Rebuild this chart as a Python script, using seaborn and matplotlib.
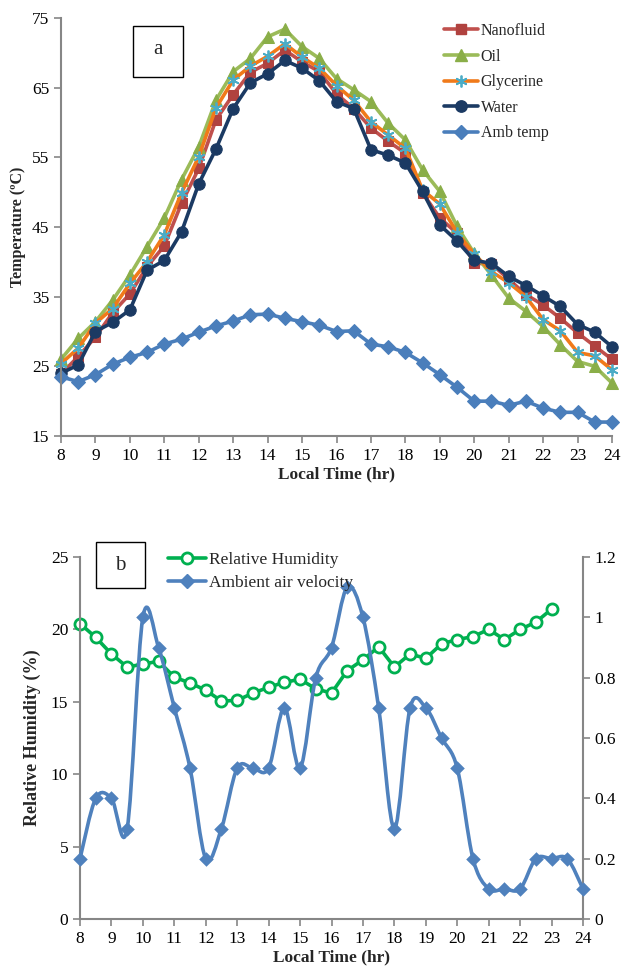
import numpy as np
import pandas as pd
import matplotlib
matplotlib.use("Agg")
import matplotlib.pyplot as plt
import seaborn as sns
from matplotlib.path import Path
from matplotlib.patches import PathPatch, Rectangle
from matplotlib.lines import Line2D

# ---------------- data ----------------
time_a = [8, 8.5, 9, 9.5, 10, 10.5, 11, 11.5, 12, 12.5, 13, 13.5, 14, 14.5, 15, 15.5,
          16, 16.5, 17, 17.5, 18, 18.5, 19, 19.5, 20, 20.5, 21, 21.5, 22, 22.5, 23, 23.5, 24]
nanofluid = [23.9, 26.4, 29.2, 32.7, 35.4, 39.3, 42.3, 48.4, 53.4, 60.4, 64.0, 67.2, 68.5, 70.4,
             68.7, 67.3, 64.1, 62.0, 59.2, 57.3, 55.6, 49.9, 46.3, 44.1, 39.8, 39.7, 37.5, 35.3,
             33.8, 31.9, 29.8, 27.9, 26.0]
oil = [26.0, 29.0, 31.4, 34.5, 38.1, 42.2, 46.3, 51.8, 56.5, 63.2, 67.3, 69.2, 72.3, 73.4,
       70.9, 69.2, 66.3, 64.7, 63.0, 59.9, 57.5, 53.2, 50.1, 45.1, 41.2, 38.1, 34.8, 32.9,
       30.7, 28.1, 25.7, 25.0, 22.6]
glycerine = [25.4, 27.6, 31.2, 33.3, 36.9, 40.0, 43.9, 49.9, 55.1, 62.1, 66.1, 68.1, 69.5, 71.3,
             69.4, 67.8, 65.3, 63.2, 60.1, 58.2, 56.3, 50.3, 48.3, 44.2, 41.1, 38.6, 37.0, 35.0,
             31.7, 30.1, 27.0, 26.5, 24.5]
water = [24.0, 25.2, 30.0, 31.3, 33.1, 38.8, 40.2, 44.3, 51.2, 56.2, 62.0, 65.7, 67.0, 68.9,
         67.8, 66.0, 63.0, 62.0, 56.1, 55.3, 54.2, 50.1, 45.3, 43.0, 40.2, 39.8, 37.9, 36.6,
         35.1, 33.6, 31.0, 29.9, 27.8]
amb_temp = [23.5, 22.8, 23.8, 25.3, 26.3, 27.0, 28.2, 28.9, 29.9, 30.8, 31.5, 32.4, 32.5, 31.9,
            31.4, 30.9, 30.0, 30.1, 28.2, 27.8, 27.0, 25.5, 23.8, 22.0, 20.0, 20.0, 19.4, 20.0,
            19.0, 18.4, 18.4, 17.0, 17.0]

time_rh = [8, 8.5, 9, 9.5, 10, 10.5, 11, 11.5, 12, 12.5, 13, 13.5, 14, 14.5, 15, 15.5,
           16, 16.5, 17, 17.5, 18, 18.5, 19, 19.5, 20, 20.5, 21, 21.5, 22, 22.5, 23]
rel_humidity = [20.4, 19.45, 18.3, 17.4, 17.6, 17.8, 16.7, 16.3, 15.8, 15.05, 15.1, 15.6, 16.0,
                16.35, 16.55, 15.9, 15.6, 17.15, 17.9, 18.8, 17.4, 18.3, 18.0, 19.0, 19.3, 19.5,
                20.0, 19.3, 20.0, 20.5, 21.4]
time_v = time_a
air_velocity = [0.2, 0.4, 0.4, 0.3, 1.0, 0.9, 0.7, 0.5, 0.2, 0.3, 0.5, 0.5, 0.5, 0.7, 0.5, 0.8,
                0.9, 1.1, 1.0, 0.7, 0.3, 0.7, 0.7, 0.6, 0.5, 0.2, 0.1, 0.1, 0.1, 0.2, 0.2, 0.2, 0.1]

x_ticks = list(range(8, 25))
temp_ticks = [15, 25, 35, 45, 55, 65, 75]
rh_ticks = [0, 5, 10, 15, 20, 25]
vel_ticks = [0, 0.2, 0.4, 0.6, 0.8, 1.0, 1.2]
vel_tick_labels = ["0", "0.2", "0.4", "0.6", "0.8", "1", "1.2"]

# ---------------- style ----------------
sns.set_style("ticks")
plt.rcParams["font.family"] = ["Liberation Serif", "DejaVu Serif"]

W, H = 623, 975
fig = plt.figure(figsize=(W / 100, H / 100), dpi=100)

def fx(px):
    return px / W

def fy(py):
    return 1 - py / H

GRAY = "#868686"
TICK_FS = 12.5

def style_axis(ax, right=False):
    for s in ["top", "right"]:
        ax.spines[s].set_visible(False)
    for s in ["left", "bottom"] + (["right"] if right else []):
        ax.spines[s].set_visible(True)
        ax.spines[s].set_color(GRAY)
        ax.spines[s].set_linewidth(1.5)
    ax.tick_params(axis="both", colors=GRAY, labelcolor="black", length=5, width=1.2,
                   labelsize=TICK_FS, direction="out")

# ---------------- panel a ----------------
ax1 = fig.add_axes([fx(61), fy(436), fx(612 - 61), (436 - 18) / H])
df_a = pd.DataFrame({"t": time_a, "Nanofluid": nanofluid, "Oil": oil, "Glycerine": glycerine,
                     "Water": water, "Amb temp": amb_temp})

series_a = [
    ("Nanofluid", dict(color="#C0504D", marker="s", markersize=7.8, markerfacecolor="#B0423F",
                       markeredgecolor="#B0423F", linewidth=2.6)),
    ("Oil", dict(color="#9BBB59", marker="^", markersize=8.5, markerfacecolor="#8AAE48",
                 markeredgecolor="#8AAE48", linewidth=2.6)),
    ("Glycerine", dict(color="#F07A1A", marker=(6, 2, 0), markersize=8.5, markerfacecolor="none",
                       markeredgecolor="#4BACC6", markeredgewidth=1.3, linewidth=2.6)),
    ("Water", dict(color="#1B3A63", marker="o", markersize=8.2, markerfacecolor="#1B3A63",
                   markeredgecolor="#1B3A63", linewidth=2.6)),
    ("Amb temp", dict(color="#4A7EBB", marker="D", markersize=7.2, markerfacecolor="#4A7EBB",
                      markeredgecolor="#4A7EBB", linewidth=2.6)),
]
handles_a = []
for name, kw in series_a:
    sns.lineplot(data=df_a, x="t", y=name, ax=ax1, clip_on=False, **kw)
    handles_a.append(Line2D([], [], **kw))

ax1.set_xlim(8, 24)
ax1.set_ylim(15, 75)
ax1.set_xticks(x_ticks)
ax1.set_yticks(temp_ticks)
style_axis(ax1)
ax1.set_xlabel("Local Time (hr)", fontsize=12.5, fontweight="bold", labelpad=2)
ax1.set_ylabel("Temperature (ºC)", fontsize=11.5, fontweight="bold", labelpad=4)

leg1 = ax1.legend(handles_a, [s[0] for s in series_a], loc="upper left",
                  bbox_to_anchor=(fx(444), fy(23)), bbox_transform=fig.transFigure,
                  frameon=False, fontsize=11.5, borderpad=0, borderaxespad=0,
                  handlelength=2.15, handletextpad=0.15, labelspacing=0.6)

fig.add_artist(Rectangle((fx(133), fy(77)), fx(183) - fx(133), fy(26) - fy(77),
                         transform=fig.transFigure, fill=False, ec="black", lw=1.0))
fig.text(fx(158), fy(50), "a", ha="center", va="center", fontsize=15)

# ---------------- panel b ----------------
ax2 = fig.add_axes([fx(80), fy(919), fx(583 - 80), (919 - 557) / H])
ax3 = ax2.twinx()

df_rh = pd.DataFrame({"t": time_rh, "rh": rel_humidity})
df_v = pd.DataFrame({"t": time_v, "v": air_velocity})

rh_kw = dict(color="#00B050", marker="o", markersize=8, markerfacecolor="white",
             markeredgecolor="#00B050", markeredgewidth=2.0, linewidth=2.6)
sns.lineplot(data=df_rh, x="t", y="rh", ax=ax2, clip_on=False, **rh_kw)

VCOL = "#4F81BD"
# Excel-style smoothed line: cubic Bezier segments through the data points
xs = np.asarray(time_v, float)
ys = np.asarray(air_velocity, float)
n = len(xs)
verts = [(xs[0], ys[0])]
codes = [Path.MOVETO]
for i in range(n - 1):
    i0 = max(i - 1, 0)
    i3 = min(i + 2, n - 1)
    c1 = (xs[i] + (xs[i + 1] - xs[i0]) / 6, ys[i] + (ys[i + 1] - ys[i0]) / 6)
    c2 = (xs[i + 1] - (xs[i3] - xs[i]) / 6, ys[i + 1] - (ys[i3] - ys[i]) / 6)
    verts += [c1, c2, (xs[i + 1], ys[i + 1])]
    codes += [Path.CURVE4] * 3
ax3.add_patch(PathPatch(Path(verts, codes), fill=False, ec=VCOL, lw=2.6,
                        capstyle="round", joinstyle="round", clip_on=False))
sns.scatterplot(data=df_v, x="t", y="v", ax=ax3, marker="D", s=55, color=VCOL,
                edgecolor=VCOL, linewidth=0, clip_on=False, zorder=3)

ax2.set_xlim(8, 24)
ax2.set_ylim(0, 25)
ax3.set_ylim(0, 1.2)
ax2.set_xticks(x_ticks)
ax2.set_yticks(rh_ticks)
ax3.set_yticks(vel_ticks)
ax3.set_yticklabels(vel_tick_labels)
style_axis(ax2)
style_axis(ax3, right=True)
ax3.spines["left"].set_visible(False)
ax3.spines["bottom"].set_visible(False)
ax3.set_ylabel("")
ax2.set_xlabel("Local Time (hr)", fontsize=12.5, fontweight="bold", labelpad=2)
ax2.set_ylabel("Relative Humidity (%)", fontsize=13, fontweight="bold", labelpad=7)

h_rh = Line2D([], [], **rh_kw)
h_v = Line2D([], [], color=VCOL, marker="D", markersize=7.2, linewidth=2.6)
leg2 = ax3.legend([h_rh, h_v], ["Relative Humidity", "Ambient air velocity"], loc="upper left",
                  bbox_to_anchor=(fx(168), fy(552)), bbox_transform=fig.transFigure,
                  frameon=False, fontsize=12.5, borderpad=0, borderaxespad=0,
                  handlelength=2.2, handletextpad=0.15, labelspacing=0.4)

fig.add_artist(Rectangle((fx(96), fy(588)), fx(145) - fx(96), fy(542) - fy(588),
                         transform=fig.transFigure, fill=False, ec="black", lw=1.0))
fig.text(fx(120.5), fy(565), "b", ha="center", va="center", fontsize=15)

fig.savefig("out.png", dpi=100)
